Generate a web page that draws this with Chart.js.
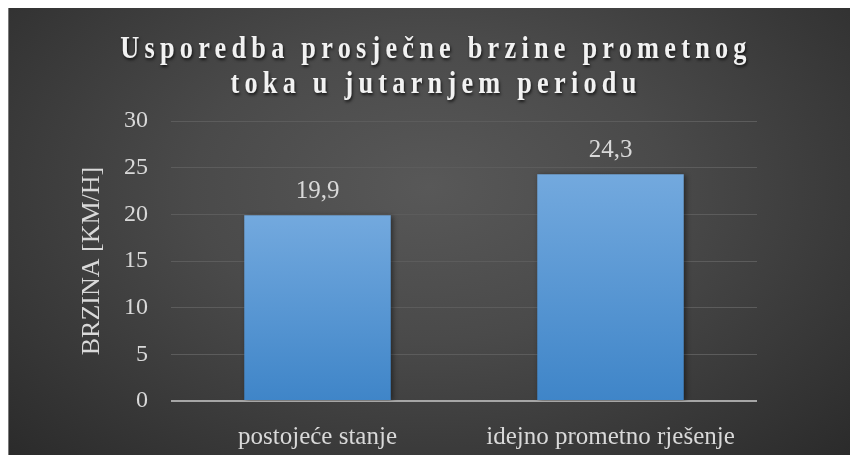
<!DOCTYPE html>
<html>
<head>
<meta charset="utf-8">
<script src="https://cdn.jsdelivr.net/npm/chart.js@4"></script>
<style>
    html, body { margin: 0; padding: 0; background: #fff; overflow: hidden; }
    #wrap {
        position: absolute; left: 8px; top: 8px; width: 842px; height: 447px;
        background: radial-gradient(ellipse 70% 85% at 50% 40%, #585858 0%, #4a4a4a 40%, #2b2b2b 100%);
        box-shadow: inset 1px 0 0 #7a7a7a;
    }
    canvas { display: block; }
</style>
</head>
<body>
<div id="wrap"><canvas id="chart" width="842" height="447"></canvas></div>
<script>
const titleLines = ["Usporedba prosječne brzine prometnog", "toka u jutarnjem periodu"]
const categories = ["postojeće stanje", "idejno prometno rješenje"]
const speeds = [19.9, 24.3]
const yTitle = "BRZINA [KM/H]"

const textColor = "#d9d9d9"
const serif = "'Liberation Serif', 'Times New Roman', serif"

// title in a narrow, letter spaced bold serif
const fancyTitle = {
    id: 'fancyTitle',
    afterDraw(chart) {
        const ctx = chart.ctx
        const squeeze = 0.85
        ctx.save()
        ctx.scale(squeeze, 1)
        ctx.font = "bold 31px " + serif
        ctx.letterSpacing = (5.2 / squeeze) + "px"
        ctx.fillStyle = "#f2f2f2"
        ctx.textAlign = "center"
        ctx.textBaseline = "alphabetic"
        ctx.shadowColor = "rgba(0,0,0,0.7)"
        ctx.shadowBlur = 3
        ctx.shadowOffsetX = 1
        ctx.shadowOffsetY = 2
        ctx.fillText(titleLines[0], 428 / squeeze, 50)
        ctx.fillText(titleLines[1], 428 / squeeze, 85)
        ctx.restore()
    }
}

const barExtras = {
    id: 'barExtras',
    beforeDatasetsDraw(chart) {
        const ctx = chart.ctx
        ctx.save()
        ctx.shadowColor = "rgba(0,0,0,0.45)"
        ctx.shadowBlur = 5
        ctx.shadowOffsetX = 2
        ctx.shadowOffsetY = 1
    },
    afterDatasetsDraw(chart) {
        const ctx = chart.ctx
        ctx.restore()
        ctx.save()
        ctx.font = "25px " + serif
        ctx.fillStyle = textColor
        ctx.textAlign = "center"
        ctx.textBaseline = "alphabetic"
        chart.getDatasetMeta(0).data.forEach((bar, i) => {
            const label = speeds[i].toFixed(1).replace('.', ',')
            ctx.fillText(label, bar.x, bar.y - 17)
        })
        ctx.restore()
    }
}

function barGradient(c) {
    const chart = c.chart
    if (!chart.chartArea || c.dataIndex === undefined) return "#5b9bd5"
    const y = chart.scales.y
    const top = y.getPixelForValue(speeds[c.dataIndex])
    const bottom = y.getPixelForValue(0)
    const g = chart.ctx.createLinearGradient(0, top, 0, bottom)
    g.addColorStop(0, "#73a9de")
    g.addColorStop(1, "#3f85c8")
    return g
}

new Chart(document.getElementById('chart'), {
    type: 'bar',
    data: {
        labels: categories,
        datasets: [{
            data: speeds,
            backgroundColor: barGradient,
            borderWidth: 0,
            categoryPercentage: 1,
            barPercentage: 0.5,
        }]
    },
    plugins: [fancyTitle, barExtras],
    options: {
        responsive: false,
        animation: false,
        layout: { padding: { top: 113, right: 93, left: 0, bottom: 0 } },
        plugins: {
            legend: { display: false },
            tooltip: { enabled: false },
            title: { display: false },
        },
        scales: {
            y: {
                min: 0,
                max: 30,
                ticks: {
                    stepSize: 5,
                    padding: 23,
                    color: textColor,
                    font: { family: serif, size: 24 },
                },
                grid: {
                    drawTicks: false,
                    color: (c) => c.tick && c.tick.value === 0 ? "#a6a6a6" : "#5c5c5c",
                    lineWidth: (c) => c.tick && c.tick.value === 0 ? 2 : 1,
                },
                border: { display: false },
                title: {
                    display: true,
                    text: yTitle,
                    color: textColor,
                    font: { family: serif, size: 26 },
                    padding: { top: 69, bottom: 0 },
                },
                afterFit(scale) { scale.width = 163 },
            },
            x: {
                ticks: {
                    padding: 21,
                    color: textColor,
                    font: { family: serif, size: 25 },
                },
                grid: { display: false, drawTicks: false },
                border: { display: false },
                afterFit(scale) { scale.height = 54 },
            }
        }
    }
})
</script>
</body>
</html>
